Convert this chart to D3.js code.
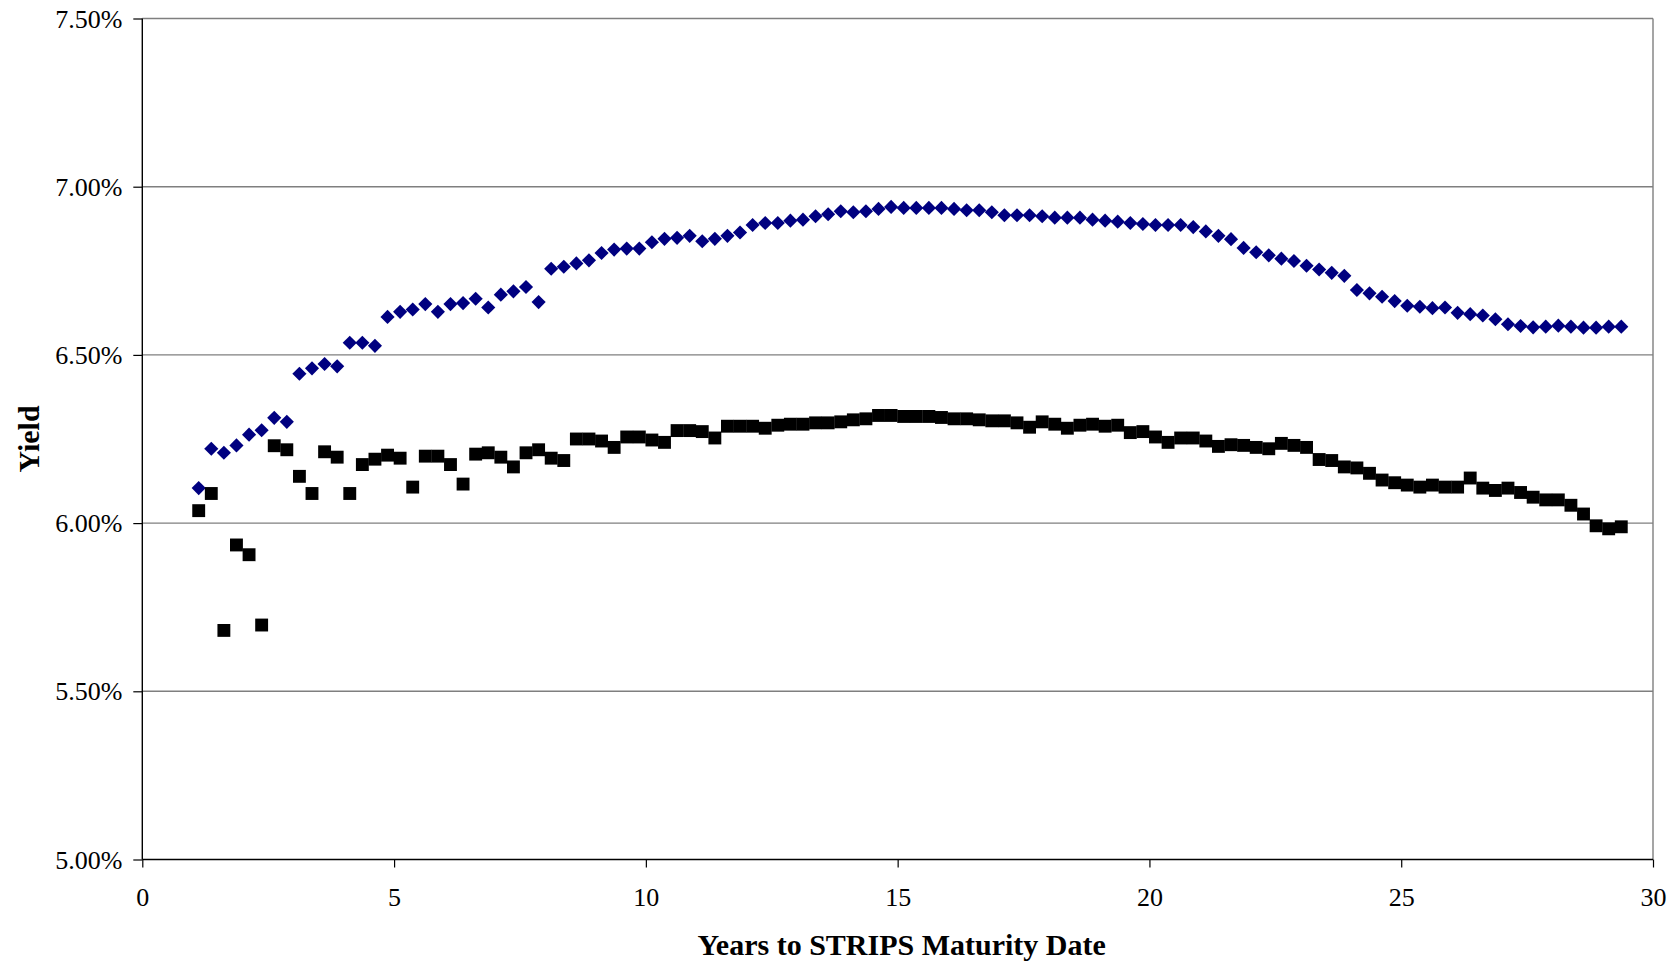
<!DOCTYPE html>
<html>
<head>
<meta charset="utf-8">
<script src="https://cdn.jsdelivr.net/npm/d3@7"></script>
<style>
  html, body { margin: 0; padding: 0; background: #ffffff; }
  svg { display: block; }
  text { font-family: "Liberation Serif", "Times New Roman", Times, serif; fill: #000; }
</style>
</head>
<body>
<svg id="chart" width="1677" height="966"></svg>
<script>
// ---- Data ----
const years = [
  1.12, 1.37, 1.62, 1.87, 2.12, 2.37, 2.62, 2.87, 3.12, 3.37,
  3.62, 3.87, 4.12, 4.37, 4.62, 4.87, 5.12, 5.37, 5.62, 5.87,
  6.12, 6.37, 6.62, 6.87, 7.12, 7.37, 7.62, 7.87, 8.12, 8.37,
  8.62, 8.87, 9.12, 9.37, 9.62, 9.87, 10.12, 10.37, 10.62, 10.87,
  11.12, 11.37, 11.62, 11.87, 12.12, 12.37, 12.62, 12.87, 13.12, 13.37,
  13.62, 13.87, 14.12, 14.37, 14.62, 14.87, 15.12, 15.37, 15.62, 15.87,
  16.12, 16.37, 16.62, 16.87, 17.12, 17.37, 17.62, 17.87, 18.12, 18.37,
  18.62, 18.87, 19.12, 19.37, 19.62, 19.87, 20.12, 20.37, 20.62, 20.87,
  21.12, 21.37, 21.62, 21.87, 22.12, 22.37, 22.62, 22.87, 23.12, 23.37,
  23.62, 23.87, 24.12, 24.37, 24.62, 24.87, 25.12, 25.37, 25.62, 25.87,
  26.12, 26.37, 26.62, 26.87, 27.12, 27.37, 27.62, 27.87, 28.12, 28.37,
  28.62, 28.87, 29.12, 29.37
];

// Blue diamonds (yield, %)
const blueYields = [
  6.104, 6.221, 6.209, 6.231, 6.263, 6.276, 6.313, 6.301, 6.444, 6.460,
  6.473, 6.466, 6.536, 6.536, 6.527, 6.613, 6.628, 6.635, 6.651, 6.628,
  6.651, 6.654, 6.667, 6.641, 6.679, 6.689, 6.702, 6.657, 6.756, 6.762,
  6.772, 6.781, 6.803, 6.813, 6.816, 6.816, 6.835, 6.845, 6.848, 6.854,
  6.838, 6.845, 6.854, 6.864, 6.886, 6.892, 6.892, 6.899, 6.902, 6.912,
  6.918, 6.927, 6.924, 6.927, 6.934, 6.940, 6.937, 6.937, 6.937, 6.937,
  6.934, 6.930, 6.930, 6.924, 6.915, 6.915, 6.915, 6.912, 6.908, 6.908,
  6.908, 6.902, 6.899, 6.896, 6.892, 6.889, 6.886, 6.886, 6.886, 6.880,
  6.867, 6.854, 6.844, 6.818, 6.805, 6.796, 6.786, 6.779, 6.765, 6.754,
  6.744, 6.735, 6.693, 6.683, 6.673, 6.660, 6.646, 6.643, 6.639, 6.641,
  6.625, 6.621, 6.617, 6.606, 6.591, 6.586, 6.582, 6.584, 6.587, 6.584,
  6.581, 6.581, 6.584, 6.584
];

// Black squares (yield, %)
const blackYields = [
  6.037, 6.088, 5.681, 5.935, 5.906, 5.697, 6.230, 6.218, 6.139, 6.088,
  6.212, 6.196, 6.088, 6.174, 6.190, 6.202, 6.193, 6.107, 6.199, 6.199,
  6.174, 6.116, 6.205, 6.209, 6.196, 6.167, 6.209, 6.218, 6.193, 6.186,
  6.250, 6.250, 6.244, 6.225, 6.256, 6.256, 6.247, 6.240, 6.275, 6.275,
  6.272, 6.253, 6.288, 6.288, 6.288, 6.282, 6.291, 6.294, 6.294, 6.298,
  6.298, 6.301, 6.307, 6.310, 6.320, 6.320, 6.317, 6.317, 6.317, 6.314,
  6.310, 6.310, 6.307, 6.304, 6.304, 6.298, 6.285, 6.301, 6.294, 6.282,
  6.291, 6.294, 6.288, 6.291, 6.269, 6.272, 6.256, 6.240, 6.253, 6.253,
  6.244, 6.228, 6.233, 6.231, 6.225, 6.221, 6.237, 6.231, 6.225, 6.189,
  6.186, 6.167, 6.164, 6.148, 6.128, 6.120, 6.113, 6.107, 6.113, 6.107,
  6.107, 6.134, 6.104, 6.097, 6.104, 6.091, 6.077, 6.069, 6.069, 6.053,
  6.027, 5.992, 5.983, 5.989
];

const xTicks = [0, 5, 10, 15, 20, 25, 30];
const yTicks = [5.0, 5.5, 6.0, 6.5, 7.0, 7.5];
const xTitle = "Years to STRIPS Maturity Date";
const yTitle = "Yield";

// ---- Layout ----
const L = 142.3, R = 1653, T = 18.5, B = 859.5;
const svg = d3.select("#chart");

const x = d3.scaleLinear().domain([0, 30]).range([L, R]);
const y = d3.scaleLinear().domain([5.0, 7.5]).range([B, T]);

// gridlines
svg.append("g")
  .selectAll("line")
  .data(yTicks.filter(v => v > 5.0))
  .join("line")
  .attr("x1", L).attr("x2", R)
  .attr("y1", d => y(d)).attr("y2", d => y(d))
  .attr("stroke", "#7f7f7f").attr("stroke-width", 1.4);

// right border
svg.append("line")
  .attr("x1", R).attr("x2", R).attr("y1", T).attr("y2", B)
  .attr("stroke", "#7f7f7f").attr("stroke-width", 1.4);

// Axes
const yAxis = d3.axisLeft(y).tickValues(yTicks).tickSize(9).tickPadding(11)
  .tickFormat(d => d3.format(".2f")(d) + "%");
const gy = svg.append("g").attr("transform", `translate(${L},0)`).call(yAxis);
gy.select(".domain").remove();
gy.selectAll(".tick line").attr("stroke", "#000").attr("stroke-width", 1.2);
gy.selectAll(".tick text").attr("font-size", 26)
  .attr("font-family", "'Liberation Serif', 'Times New Roman', serif")
  .attr("dy", "0.33em");

const xAxis = d3.axisBottom(x).tickValues(xTicks).tickSize(8).tickPadding(20)
  .tickFormat(d3.format("d"));
const gx = svg.append("g").attr("transform", `translate(0,${B})`).call(xAxis);
gx.select(".domain").remove();
gx.selectAll(".tick line").attr("stroke", "#000").attr("stroke-width", 1.2);
gx.selectAll(".tick text").attr("font-size", 26)
  .attr("font-family", "'Liberation Serif', 'Times New Roman', serif");

// axis lines
svg.append("line").attr("x1", L).attr("x2", L).attr("y1", T).attr("y2", B)
  .attr("stroke", "#000").attr("stroke-width", 1.4);
svg.append("line").attr("x1", L).attr("x2", R).attr("y1", B).attr("y2", B)
  .attr("stroke", "#000").attr("stroke-width", 1.6);

// Markers
const diamond = d3.symbol().type(d3.symbolSquare).size(100);
svg.append("g")
  .selectAll("path")
  .data(years.map((yr, i) => [yr, blueYields[i]]))
  .join("path")
  .attr("d", diamond)
  .attr("transform", d => `translate(${x(d[0])},${y(d[1])}) rotate(45)`)
  .attr("fill", "#000080");

const square = d3.symbol().type(d3.symbolSquare).size(166);
svg.append("g")
  .selectAll("path")
  .data(years.map((yr, i) => [yr, blackYields[i]]))
  .join("path")
  .attr("d", square)
  .attr("transform", d => `translate(${x(d[0])},${y(d[1])})`)
  .attr("fill", "#000");

// Titles
svg.append("text")
  .attr("x", (L + R) / 2 + 4).attr("y", 955)
  .attr("text-anchor", "middle")
  .attr("font-size", 30).attr("font-weight", "bold")
  .text(xTitle);

svg.append("text")
  .attr("transform", `translate(39,${(T + B) / 2}) rotate(-90)`)
  .attr("text-anchor", "middle")
  .attr("font-size", 30).attr("font-weight", "bold")
  .text(yTitle);
</script>
</body>
</html>
